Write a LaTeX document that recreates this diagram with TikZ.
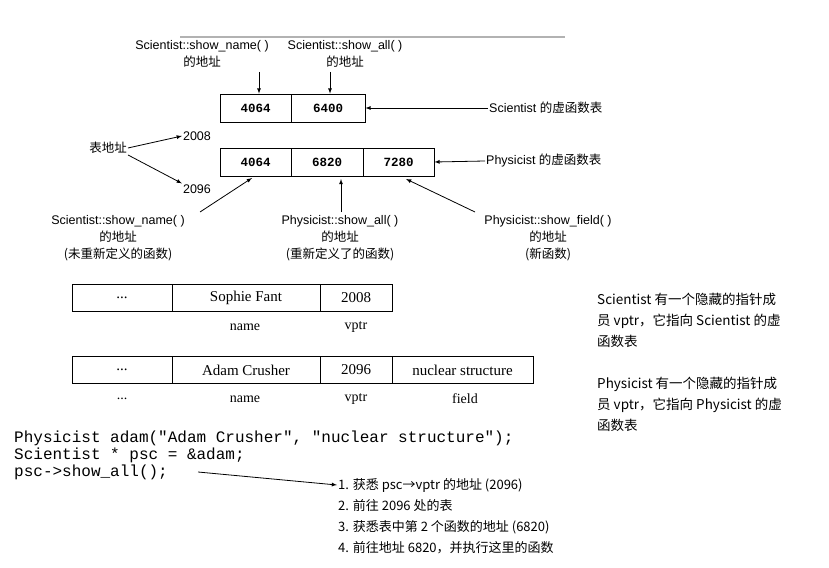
\documentclass[tikz,border=0pt]{standalone}
\usepackage{fontspec}
\setmainfont{Liberation Sans}
\setmonofont{Liberation Mono}
\newfontfamily\cjk{Noto Sans CJK SC}
\newfontfamily\ser{Liberation Serif}
\begin{document}
\begin{tikzpicture}[x=1pt,y=-1pt,
  lbl/.style={font=\fontsize{12.5}{17}\selectfont,inner sep=1pt,align=center},
  cell/.style={draw,thick,minimum height=28pt,inner sep=0pt,font=\ttfamily\bfseries\fontsize{12.5}{14}\selectfont},
  scell/.style={draw,thick,minimum height=27pt,inner sep=0pt,font=\ser\fontsize{15}{17}\selectfont},
  arr/.style={-latex,thick},
  fld/.style={font=\ser\fontsize{14}{16}\selectfont,inner sep=1pt},
  cjkl/.style={lbl,anchor=west,font=\cjk\fontsize{13}{15}\selectfont},
  desc/.style={lbl,anchor=west,align=left,font=\cjk\fontsize{13.5}{21}\selectfont},
  code/.style={font=\ttfamily\fontsize{16}{17}\selectfont,anchor=west,inner sep=0pt}]
\useasboundingbox[fill=white] (0,0) rectangle (829,567);
\draw[gray!60,line width=1.2pt] (180,37) -- (565,37);
% top labels
\node[lbl] (ln1) at (202,54) {Scientist::show\_name( )\\{\cjk 的地址}};
\node[lbl] (ln2) at (345,54) {Scientist::show\_all( )\\{\cjk 的地址}};
% table 1
\node[cell,minimum width=71pt] (a1) at (255.5,108) {4064};
\node[cell,minimum width=74pt] (a2) at (328,108) {6400};
\coordinate (t1) at (259,72); \coordinate (t2) at (330,72);
\draw[arr] (t1) -- (a1.north-|t1);
\draw[arr] (t2) -- (a2.north-|t2);
\node[lbl,anchor=west] (st) at (488,108) {Scientist {\cjk 的虚函数表}};
\draw[arr] (st.west) -- (a2.east);
% table 2
\node[cell,minimum width=71pt] (b1) at (255.5,162) {4064};
\node[cell,minimum width=72pt] (b2) at (327,162) {6820};
\node[cell,minimum width=71pt] (b3) at (398.5,162) {7280};
\node[lbl,anchor=west] (pt) at (485,161) {Physicist {\cjk 的虚函数表}};
\draw[arr] (pt.west) -- (b3.east);
\node[lbl] (n2008) at (197,136) {2008};
\node[lbl] (n2096) at (197,189) {2096};
\node[lbl] (ta) at (108,148) {\cjk 表地址};
\draw[arr] (ta.east) -- (n2008.west);
\draw[arr] (ta.south east) -- (n2096.north west);
% bottom labels
\node[lbl] (bl1) at (118,238) {Scientist::show\_name( )\\{\cjk 的地址}\\{\cjk (未重新定义的函数)}};
\node[lbl] (bl2) at (340,238) {Physicist::show\_all( )\\{\cjk 的地址}\\{\cjk (重新定义了的函数)}};
\node[lbl] (bl3) at (548,238) {Physicist::show\_field( )\\{\cjk 的地址}\\{\cjk (新函数)}};
\draw[arr] (200,212) -- (252,178);
\draw[arr] (341,212) -- (341,179);
\draw[arr] (475,212) -- (406,179);
% struct 1
\node[scell,minimum width=100pt] (s1) at (122,298) {...};
\node[scell,minimum width=148pt] (s2) at (246,298) {Sophie Fant};
\node[scell,minimum width=72pt] (s3) at (356,298) {2008};
\node[fld] (f1) at (245,327) {name};
\node[fld] (f2) at (356,327) {vptr};
\node[desc] (d1) at (596,320) {Scientist 有一个隐藏的指针成\\员 vptr，它指向 Scientist 的虚\\函数表};
% struct 2
\node[scell,minimum width=100pt] (p1) at (122,370) {...};
\node[scell,minimum width=148pt] (p2) at (246,370) {Adam Crusher};
\node[scell,minimum width=72pt] (p3) at (356,370) {2096};
\node[scell,minimum width=141pt] (p4) at (462.5,370) {nuclear structure};
\node[fld] (g0) at (122,399) {...};
\node[fld] (g1) at (245,399) {name};
\node[fld] (g2) at (356,399) {vptr};
\node[fld] (g3) at (465,399) {field};
\node[desc] (d2) at (596,404) {Physicist 有一个隐藏的指针成\\员 vptr，它指向 Physicist 的虚\\函数表};
% code
\node[code] (c1) at (14,438) {Physicist adam("Adam Crusher", "nuclear structure");};
\node[code] (c2) at (14,455) {Scientist * psc = \&adam;};
\node[code] (c3) at (14,472) {psc->show\_all();};
\node[cjkl] (k1) at (337,485) {1. 获悉 psc→vptr 的地址 (2096)};
\node[cjkl] (k2) at (337,506) {2. 前往 2096 处的表};
\node[cjkl] (k3) at (337,527) {3. 获悉表中第 2 个函数的地址 (6820)};
\node[cjkl] (k4) at (337,548) {4. 前往地址 6820，并执行这里的函数};
\draw[arr] (c3.east) ++(30,0) coordinate (c3e) (c3e) -- (k1.west);
\end{tikzpicture}
\end{document}
